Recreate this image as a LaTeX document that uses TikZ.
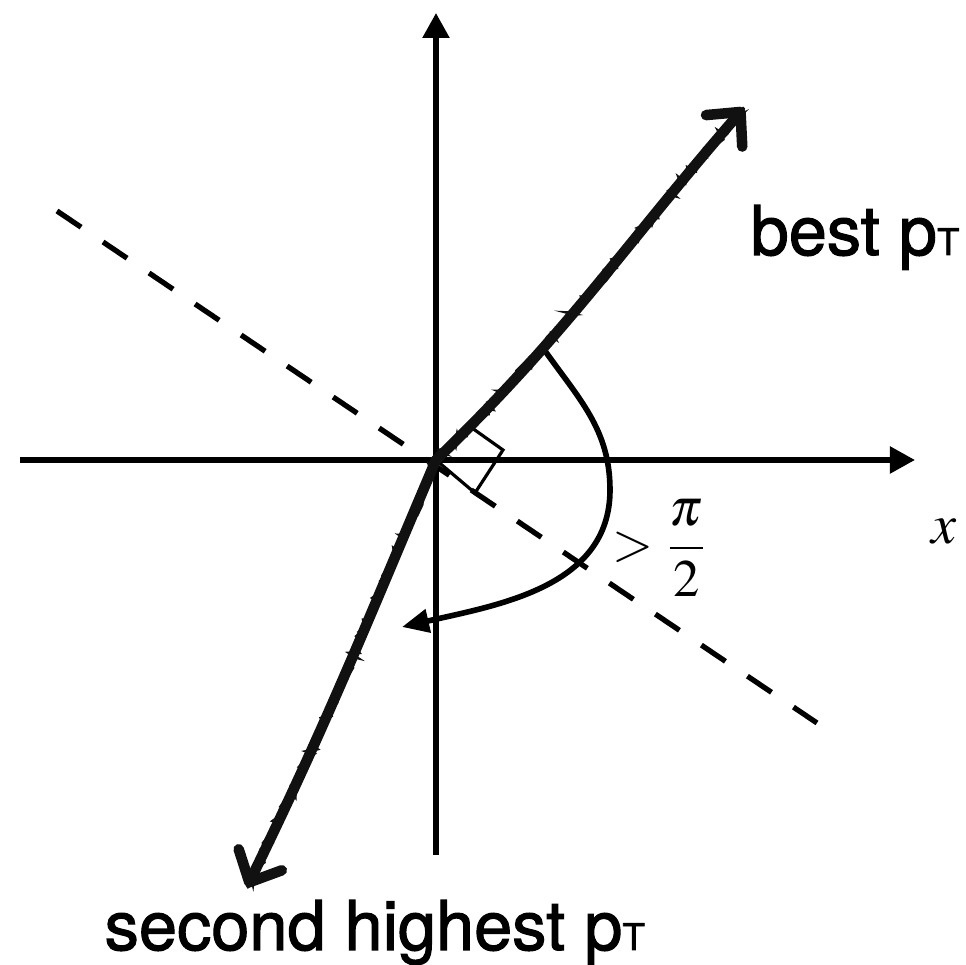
\documentclass[tikz,border=0pt]{standalone}
\usepackage{amsmath}
\usepackage{mathptmx}
\usepackage{fontspec}
\usepackage{tikz}
\usetikzlibrary{arrows.meta, decorations.pathmorphing}
\newfontfamily\labelfont[FakeBold=1.6]{TeX Gyre Heros}
\definecolor{cink}{HTML}{000000}
\definecolor{cpencil}{HTML}{111111}

\begin{document}
\begin{tikzpicture}[
    axis/.style={line width=1.5pt, cink, -{Triangle[length=2.5mm, width=2.6mm]}},
    pencil/.style={line width=3pt, cpencil, line cap=round,
      -{Straight Barb[length=2.5mm, width=4.8mm, line cap=round, line join=round]}},
    rough/.style={line width=0.9pt, cpencil, decorate,
      decoration={random steps, segment length=1.1pt, amplitude=1.3pt}},
    ptlabel/.style={font=\labelfont\fontsize{19.5}{23}\selectfont, inner sep=0pt, anchor=base west}
  ]
  % frame (keeps the margins of the figure)
  \useasboundingbox (-4.36,-5.05) rectangle (5.30,4.60);

  % Named points
  \coordinate (O)     at (0,0);
  \coordinate (xl)    at (-4.16,0);
  \coordinate (xr)    at (4.79,0);
  \coordinate (yb)    at (0,-3.95);
  \coordinate (yt)    at (0,4.47);
  \coordinate (best)  at (3.08,3.52);
  \coordinate (second) at (-1.89,-4.27);
  \coordinate (perpa) at (-3.79,2.49);
  \coordinate (perpb) at (3.81,-2.63);
  \coordinate (arcs)  at (1.07,1.12);
  \coordinate (arce)  at (-0.34,-1.67);

  % Axes
  \draw[axis] (xl) -- (xr);
  \draw[axis] (yb) -- (yt);

  % Dashed perpendicular direction
  \draw[line width=1.5pt, dash pattern=on 2.9mm off 2.65mm] (perpa) -- (perpb);

  % Right angle marker
  \draw[line width=0.9pt] (O) -- (0.36,0.32) -- (0.67,0.10) -- (0.39,-0.33) -- cycle;

  % Angle larger than pi/2
  \draw[line width=1.6pt, -{Triangle[length=2.7mm, width=2.3mm]}]
    (arcs) to[out=-55, in=90] (1.74,-0.30) to[out=-90, in=13] (arce);

  % Pencil-like jets
  \draw[pencil] (O) to[out=44, in=229] (best);
  \draw[pencil] (O) to[out=247, in=64] (second);
  \draw[rough] (O) to[out=44, in=229] (best);
  \draw[rough] (O) to[out=247, in=64] (second);

  % Labels
  \node[ptlabel] (bestlab) at (3.14,2.05) {best p{\fontsize{10.5}{12}\selectfont T}};
  \node[ptlabel] (secondlab) at (-3.32,-4.90) {second highest p{\fontsize{10.5}{12}\selectfont T}};
  \node[font=\fontsize{15}{18}\selectfont] (angle) at (2.24,-0.88) {$>\dfrac{\pi}{2}$};
  \node[font=\fontsize{16}{19}\selectfont] (xlab) at (5.08,-0.72) {$x$};
\end{tikzpicture}
\end{document}
